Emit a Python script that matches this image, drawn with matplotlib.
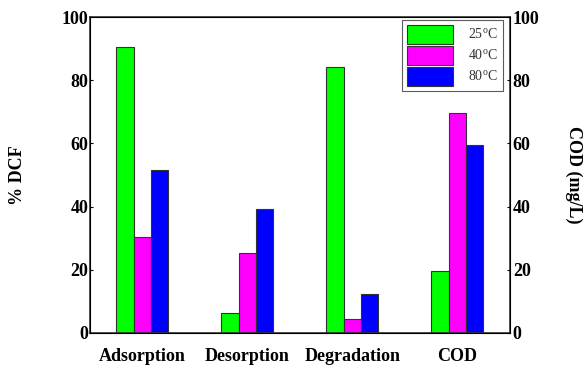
import numpy as np
import matplotlib
matplotlib.use("Agg")
import matplotlib.pyplot as plt

plt.rcParams['font.family'] = ['Liberation Serif', 'DejaVu Serif']
plt.rcParams['mathtext.fontset'] = 'custom'
plt.rcParams['mathtext.rm'] = 'Liberation Serif'

categories = ['Adsorption', 'Desorption', 'Degradation', 'COD']
labels = [r'25$^{\rm o}$C', r'40$^{\rm o}$C', r'80$^{\rm o}$C']
t25 = [90.5, 6.1, 84.1, 19.7]
t40 = [30.3, 25.4, 4.4, 69.7]
t80 = [51.6, 39.1, 12.2, 59.6]
yticks = [0, 20, 40, 60, 80, 100]

colors = ['#00ff00', '#ff00ff', '#0000ff']
series = [t25, t40, t80]

fig = plt.figure(figsize=(5.87, 3.70), dpi=100)
ax = fig.add_axes([0.1533, 0.1008, 0.7155, 0.8524])

x = np.arange(len(categories))
w = 0.165
for i, (vals, c, lab) in enumerate(zip(series, colors, labels)):
    ax.bar(x + (i - 1) * w, vals, w, color=c, edgecolor='#333333',
           linewidth=0.8, label=lab)

ax.set_xlim(-0.5, 3.5)
ax.set_ylim(0, 100)
ax.set_yticks(yticks)
ax.set_yticklabels([str(v) for v in yticks], fontsize=13, fontweight='bold')
ax.set_xticks(x)
ax.set_xticklabels(categories, fontsize=13, fontweight='bold')
ax.tick_params(axis='x', length=0, pad=11)
ax.tick_params(axis='y', direction='in', length=2, pad=1)
ax.set_ylabel('% DCF', fontsize=13, fontweight='bold', labelpad=26)
for s in ax.spines.values():
    s.set_linewidth(1.2)
    s.set_color('#333333')

ax2 = ax.twinx()
ax2.set_ylim(0, 100)
ax2.set_yticks(yticks)
ax2.set_yticklabels([str(v) for v in yticks], fontsize=13, fontweight='bold')
ax2.tick_params(axis='y', direction='in', length=2, pad=2)
ax2.set_ylabel('COD (mg/L)', fontsize=13, fontweight='bold', rotation=270,
               labelpad=31)

leg = ax.legend(loc='upper right', bbox_to_anchor=(0.983, 0.99), fontsize=10,
                frameon=True, fancybox=False, edgecolor='#333333',
                borderaxespad=0, labelcolor='#333333',
                handlelength=3.3, handleheight=1.7, handletextpad=1.1,
                borderpad=0.35, labelspacing=0.15)
leg.get_frame().set_linewidth(0.8)

fig.savefig('out.png', dpi=100)
